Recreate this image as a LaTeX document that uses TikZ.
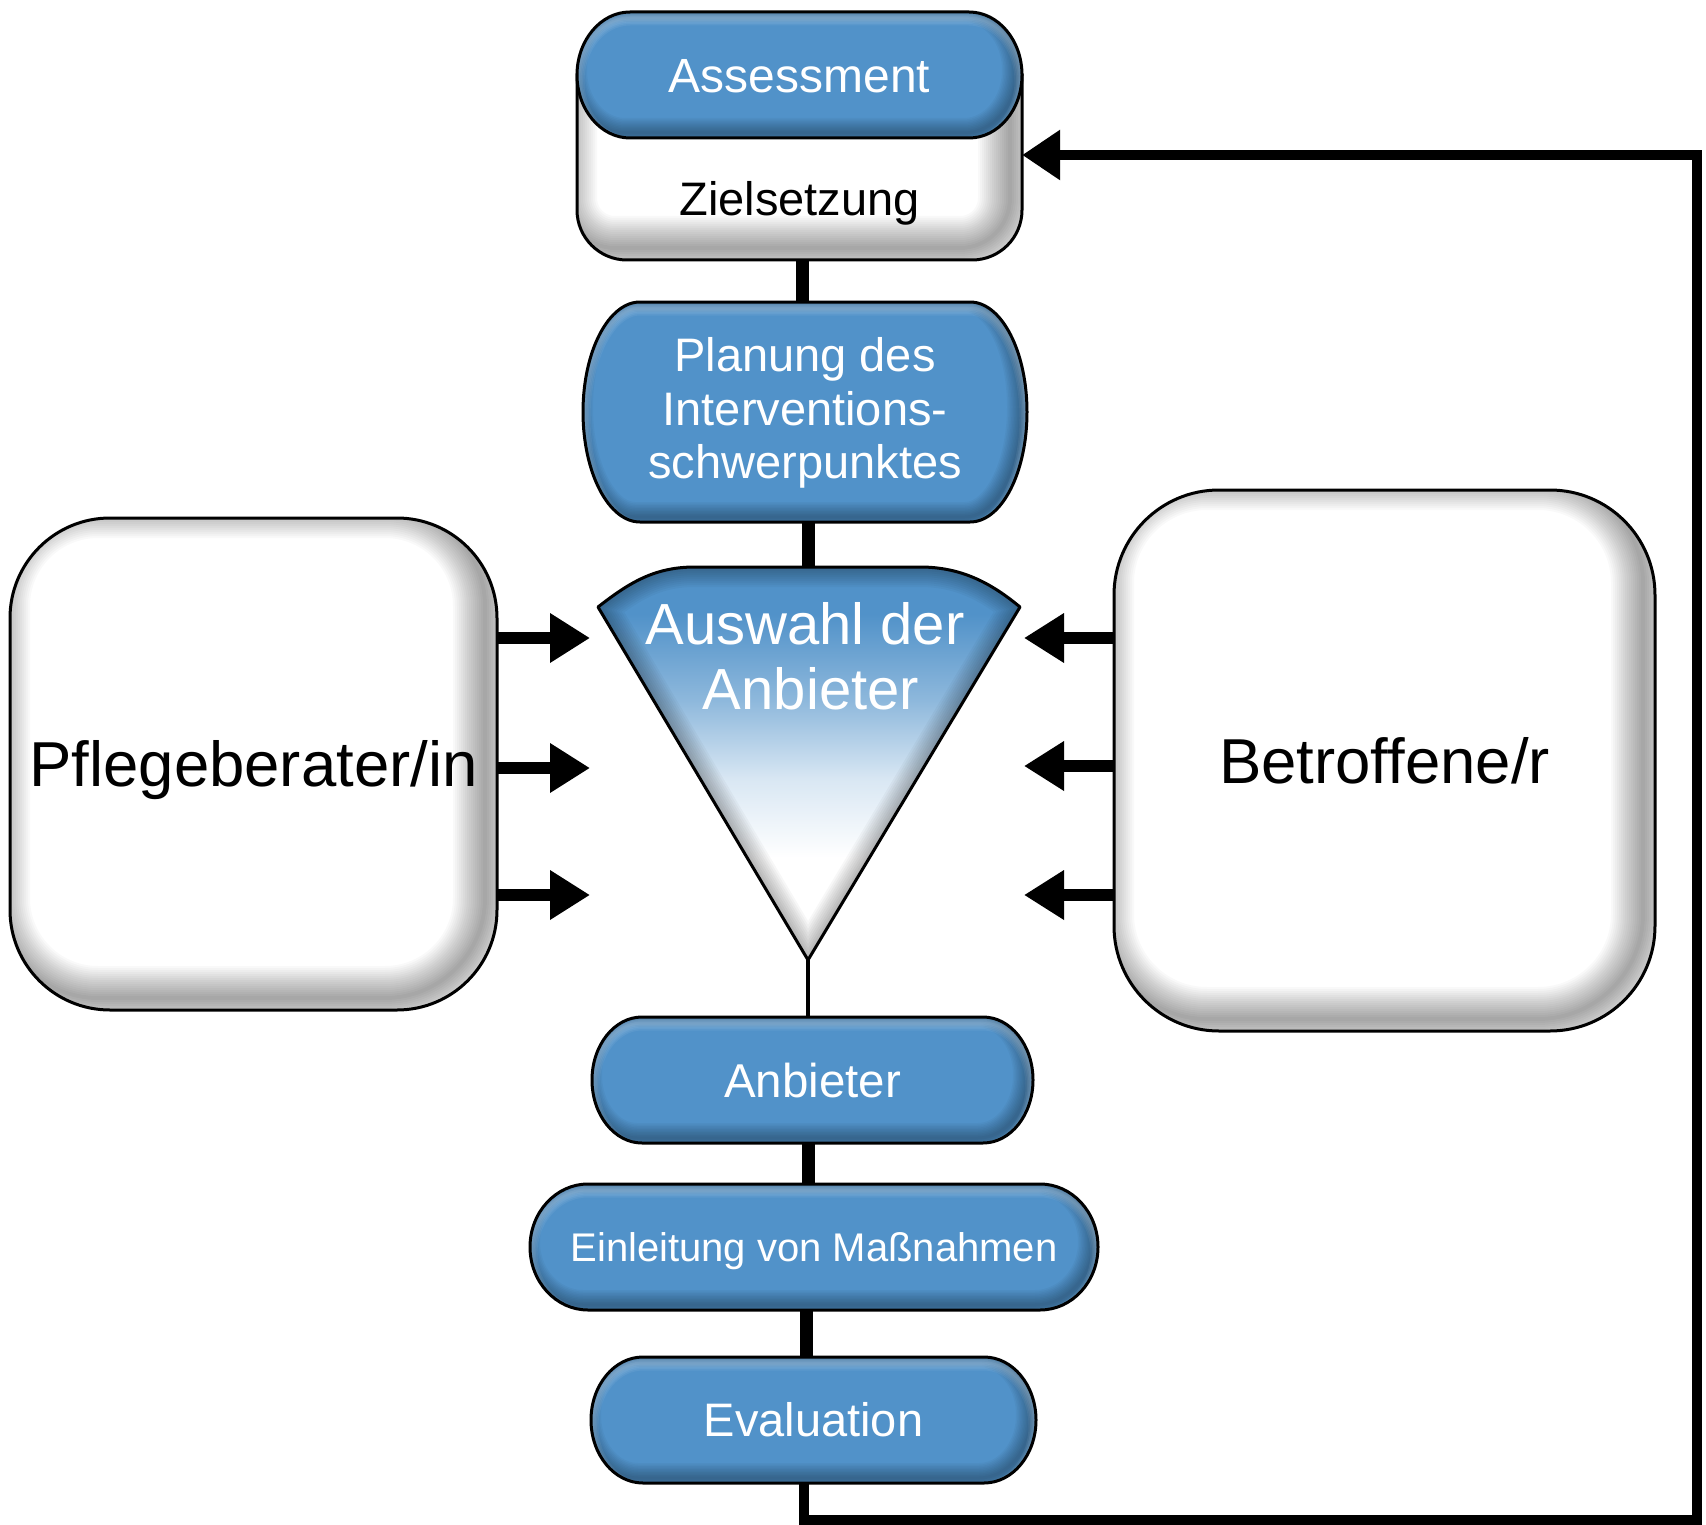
\documentclass[tikz,border=0pt]{standalone}
\usepackage{fontspec}
\setmainfont{Liberation Sans}
\usetikzlibrary{arrows.meta}
\definecolor{boxblue}{RGB}{81,146,201}
\pgfdeclareverticalshading{trishade}{100bp}{color(0bp)=(white); color(38bp)=(white); color(48bp)=(boxblue!22!white); color(58bp)=(boxblue!65!white); color(69bp)=(boxblue); color(100bp)=(boxblue)}
\newcommand\pillP[6]{(#1+#5,#2) -- (#3-#5,#2) arc[start angle=90,end angle=-90,x radius=#5pt,y radius=#6pt] -- (#1+#5,#4) arc[start angle=270,end angle=90,x radius=#5pt,y radius=#6pt] -- cycle}
\newcommand\blueshape[1]{%
  \fill[boxblue] #1;
  \begin{scope}
    \clip #1;
    \foreach \w in {3,6,...,30}{\draw[line width=\w pt,black,opacity=0.03,shift={(-5pt,5pt)}] #1;}
    \foreach \w in {3,6,...,15}{\draw[line width=\w pt,white,opacity=0.06,shift={(0pt,-6pt)}] #1;}
  \end{scope}
  \draw[line width=3pt] #1;}
\newcommand\whiteshape[1]{%
  \fill[white] #1;
  \begin{scope}
    \clip #1;
    \foreach \w in {4,8,...,64}{\draw[line width=\w pt,black,opacity=0.022,shift={(-12pt,12pt)}] #1;}
  \end{scope}
  \draw[line width=3pt] #1;}
\begin{document}
\begin{tikzpicture}[x=1pt,y=-1pt,
  wtxt/.style={text=white, inner sep=0pt},
  btxt/.style={text=black, inner sep=0pt},
  conn/.style={line width=13pt},
  thinconn/.style={line width=4pt},
  arr/.style={line width=12pt, -{Triangle[length=40pt,width=47pt]}},
  loopline/.style={line width=10pt, line join=miter, -{Triangle[length=38pt,width=48pt]}}]
\fill[white] (0,0) rectangle (1706,1525);
\useasboundingbox (0,0) rectangle (1706,1525);
% shapes
\whiteshape{(577,75) -- (577,210) arc[start angle=180,end angle=270,radius=50pt] -- (972,260) arc[start angle=270,end angle=360,radius=50pt] -- (1022,75) -- cycle}
\blueshape{\pillP{577}{12}{1022}{138}{53}{63}}
\blueshape{\pillP{583}{302}{1027}{522}{57}{110}}
\blueshape{\pillP{592}{1017}{1033}{1143}{50}{63}}
\blueshape{\pillP{530}{1184}{1098}{1310}{58}{63}}
\blueshape{\pillP{591}{1357}{1036}{1483}{52}{63}}
\whiteshape{[rounded corners=100pt] (10,518) rectangle (497,1010)}
\whiteshape{[rounded corners=105pt] (1114,490) rectangle (1655,1031)}
% funnel
\def\triP{(598,607) .. controls (630,582) and (655,567) .. (695,567) -- (920,567) .. controls (960,567) and (990,582) .. (1020,607) -- (808,960) -- cycle}
\shade[shading=trishade] \triP;
\begin{scope}
  \clip \triP;
  \foreach \w in {4,8,...,40}{\draw[line width=\w pt,black,opacity=0.03] \triP;}
\end{scope}
\draw[line width=3pt,line join=round] \triP;
% text nodes
\node[wtxt, font=\fontsize{48}{52}\selectfont, minimum width=445pt, minimum height=126pt, text height=34.4pt, text depth=0pt] (assess) at (799.5,75) {Assessment};
\node[btxt, font=\fontsize{47}{52}\selectfont, minimum width=445pt, minimum height=122pt, text height=33.7pt, text depth=0pt] (ziel) at (799.5,199) {Zielsetzung};
\node[wtxt, align=center, font=\fontsize{47}{53.5}\selectfont, minimum width=444pt, minimum height=220pt] (plan) at (805,413) {Planung des\\Interventions-\\schwerpunktes};
\node[wtxt, align=center, font=\fontsize{58}{65}\selectfont] (auswahl) at (805,656) {Auswahl der\\\hspace*{12pt}Anbieter};
\node[wtxt, font=\fontsize{47.5}{52}\selectfont, minimum width=441pt, minimum height=126pt, text height=34pt, text depth=0pt] (anb) at (812.5,1080) {Anbieter};
\node[wtxt, font=\fontsize{40}{46}\selectfont, minimum width=568pt, minimum height=126pt, text height=28.6pt, text depth=0pt] (ein) at (814,1247) {Einleitung von Maßnahmen};
\node[wtxt, font=\fontsize{47}{52}\selectfont, minimum width=445pt, minimum height=126pt, text height=33.7pt, text depth=0pt] (eval) at (813.5,1420) {Evaluation};
\node[btxt, font=\fontsize{63.5}{70}\selectfont, minimum width=487pt, minimum height=492pt, text height=45.5pt, text depth=0pt] (pfl) at (253.5,764) {Pflegeberater/in};
\node[btxt, font=\fontsize{63.5}{70}\selectfont, minimum width=541pt, minimum height=541pt, text height=45.5pt, text depth=0pt] (betr) at (1384.5,760.5) {Betroffene/r};
% coordinates
\coordinate (c1) at (802,0);
\coordinate (c2) at (808,0);
\coordinate (c3) at (806,0);
\coordinate (c4) at (804,0);
\coordinate (tritop) at (808,567);
\coordinate (apex) at (808,960);
\coordinate (lb) at (804,1520);
\coordinate (rb) at (1697,1520);
\coordinate (rt) at (1697,155);
\coordinate (la1) at (590,638);
\coordinate (la2) at (590,768);
\coordinate (la3) at (590,895);
\coordinate (ra1) at (1024,638);
\coordinate (ra2) at (1024,766);
\coordinate (ra3) at (1024,895);
% connectors
\draw[conn] (ziel.south -| c1) -- (plan.north -| c1);
\draw[conn] (plan.south -| c2) -- (tritop);
\draw[thinconn] (apex) -- (anb.north -| apex);
\draw[conn] (anb.south -| c2) -- (ein.north -| c2);
\draw[conn] (ein.south -| c3) -- (eval.north -| c3);
\draw[loopline] (eval.south -| c4) -- (lb) -- (rb) -- (rt) -- (rt -| ziel.east);
\draw[arr] (pfl.east |- la1) -- (la1);
\draw[arr] (pfl.east |- la2) -- (la2);
\draw[arr] (pfl.east |- la3) -- (la3);
\draw[arr] (betr.west |- ra1) -- (ra1);
\draw[arr] (betr.west |- ra2) -- (ra2);
\draw[arr] (betr.west |- ra3) -- (ra3);
\end{tikzpicture}
\end{document}
